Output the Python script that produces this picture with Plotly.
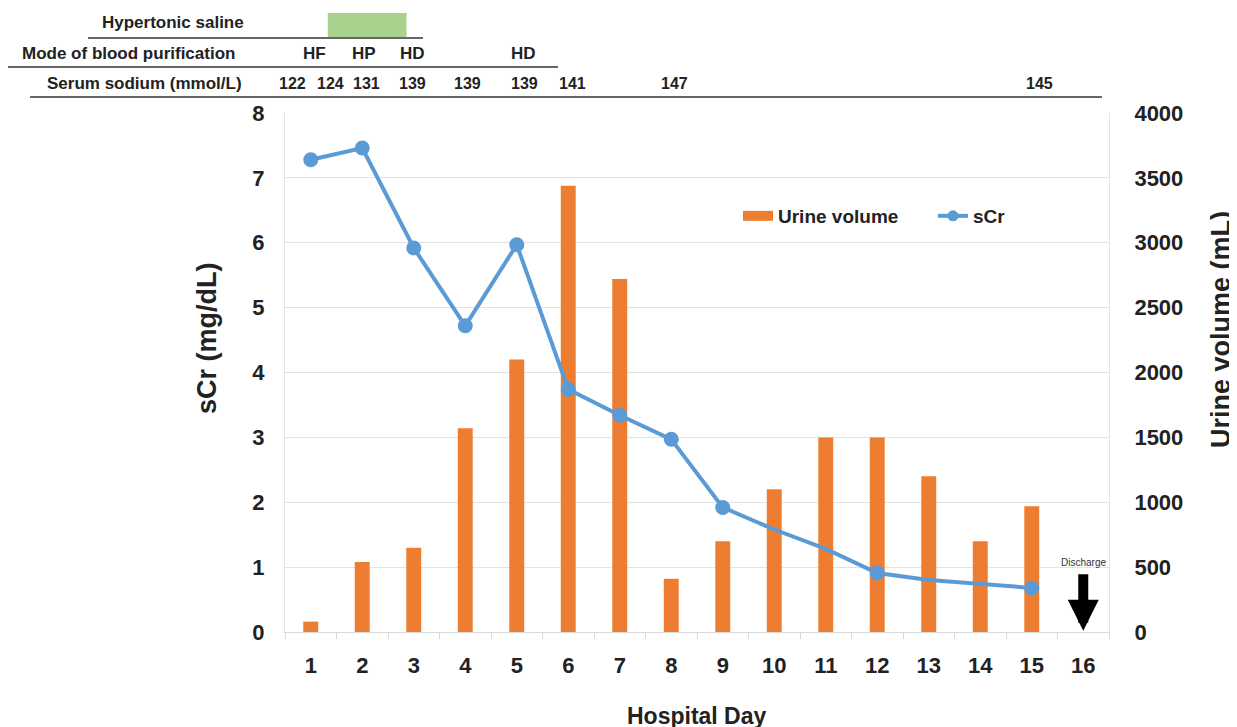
import plotly.graph_objects as go

# ---------------- data ----------------
days = list(range(1, 17))
urine_days = list(range(1, 16))
urine_volume = [80, 540, 650, 1570, 2100, 3440, 2720, 410, 700, 1100, 1500, 1500, 1200, 700, 970]
scr_days = list(range(1, 16))
scr = [7.28, 7.46, 5.92, 4.72, 5.97, 3.74, 3.34, 2.97, 1.92, 1.58, 1.28, 0.91, 0.80, 0.74, 0.68]
scr_marker_shown = [1, 1, 1, 1, 1, 1, 1, 1, 1, 0, 0, 1, 0, 0, 1]

sodium_day = [0.65, 1.39, 2.08, 2.97, 4.04, 5.15, 6.08, 8.07, 15.15]
sodium_val = ["122", "124", "131", "139", "139", "139", "141", "147", "145"]

purif_day = [1.08, 2.04, 2.97, 5.14]
purif_mode = ["HF", "HP", "HD", "HD"]

saline_start, saline_end = 1.33, 2.86
discharge_day = 16

left_ticks = list(range(0, 9))
right_ticks = list(range(0, 4001, 500))

ORANGE = "#ED7D31"
BLUE = "#5B9BD5"
FONT = "Liberation Sans, Arial, sans-serif"
W, H = 1237, 727
OFF = 8  # page body margin
# plot area in page pixels
PL, PR, PT, PB = 285, 1109, 113, 632
ML, MR, MT, MB = PL - OFF, W - (PR - OFF), PT - OFF, H - (PB - OFF)
PW, PH = PR - PL, PB - PT


def px(xp):
    return (xp - PL) / PW


def py(yp):
    return (PB - yp) / PH


fig = go.Figure()
fig.add_trace(go.Bar(
    x=urine_days, y=urine_volume, name="Urine volume", showlegend=False,
    marker=dict(color=ORANGE, line=dict(width=0)), width=0.29, yaxis="y",
))
# legend swatch for the bars (wide rectangle as in the original)
fig.add_trace(go.Scatter(
    x=[None], y=[None], name="Urine volume", mode="lines",
    line=dict(color=ORANGE, width=10), yaxis="y", hoverinfo="skip",
))
fig.add_trace(go.Scatter(
    x=scr_days, y=scr, name="sCr", mode="lines+markers",
    line=dict(color=BLUE, width=4),
    marker=dict(color=BLUE, opacity=1, line=dict(width=0),
                size=[15 if s else 0 for s in scr_marker_shown]),
    yaxis="y2",
))

annotations = []
shapes = []

hfont = dict(family=FONT, size=17, color="#222")
nfont = dict(family=FONT, size=16, color="#222")


def ann(text, x, y, font, xref="paper", **kw):
    d = dict(text=text, xref=xref, yref="paper", x=x, y=y, showarrow=False, font=font,
             xanchor="center", yanchor="middle")
    d.update(kw)
    annotations.append(d)


ann("<b>Hypertonic saline</b>", px(173), py(23), hfont)
ann("<b>Mode of blood purification</b>", px(128), py(53), hfont)
ann("<b>Serum sodium (mmol/L)</b>", px(144), py(84), hfont)
for d, m in zip(purif_day, purif_mode):
    ann("<b>%s</b>" % m, d, py(53), hfont, xref="x")
for d, v in zip(sodium_day, sodium_val):
    ann("<b>%s</b>" % v, d, py(84), nfont, xref="x")

shapes.append(dict(type="rect", xref="x", yref="paper", x0=saline_start, x1=saline_end,
                   y0=py(37), y1=py(13), fillcolor="#A9D18E", line=dict(width=0), layer="above"))
for x0, x1, y in [(88, 423, 38), (8, 558, 67), (30, 1102, 97)]:
    shapes.append(dict(type="line", xref="paper", yref="paper", x0=px(x0), x1=px(x1),
                       y0=py(y), y1=py(y), line=dict(color="#666", width=2)))

# axis titles
tfont = dict(family=FONT, size=27, color="#222")
ann("<b>sCr (mg/dL)</b>", px(207), py(338), tfont, textangle=-90)
ann("<b>Urine volume (mL)</b>", px(1221), py(330), tfont, textangle=-90)
ann("<b>Hospital Day</b>", 0.5, py(716), dict(family=FONT, size=23, color="#222"))

# discharge arrow
ann("Discharge", discharge_day, py(562), dict(family=FONT, size=10, color="#333"), xref="x")
annotations.append(dict(text="", xref="x", yref="y", x=discharge_day, y=10,
                        ax=0, ay=-58, axref="pixel", ayref="pixel",
                        showarrow=True, arrowhead=2, arrowsize=0.62, arrowwidth=10,
                        arrowcolor="black"))

tickfont = dict(family=FONT, size=22, color="#222")

fig.update_layout(
    width=W, height=H, autosize=False,
    margin=dict(l=ML, r=MR, t=MT, b=MB),
    plot_bgcolor="white", paper_bgcolor="white",
    showlegend=True,
    legend=dict(orientation="h", x=px(738), y=py(197), xanchor="left", yanchor="top",
                font=dict(family=FONT, size=19, color="#222", weight="bold"),
                bgcolor="rgba(0,0,0,0)", entrywidth=150, entrywidthmode="pixels",
                traceorder="normal"),
    xaxis=dict(range=[0.5, 16.5], tickvals=days, ticktext=["<b>%d</b>" % d for d in days],
               tickfont=tickfont, showgrid=False, zeroline=False,
               showline=True, linecolor="#d9d9d9", linewidth=1, ticks="", ticklen=0,
               ticklabelstandoff=14,
               minor=dict(tick0=0.5, dtick=1, ticks="outside", ticklen=6, tickcolor="#d9d9d9",
                          showgrid=False)),
    yaxis=dict(range=[0, 4000], tickvals=right_ticks, ticktext=["<b>%d</b>" % t for t in right_ticks],
               side="right", tickfont=tickfont, showgrid=True, gridcolor="#e3e3e3", gridwidth=1,
               zeroline=False, showline=True, linecolor="#e3e3e3", ticks="", ticklabelstandoff=20),
    yaxis2=dict(range=[0, 8], tickvals=left_ticks, ticktext=["<b>%d</b>" % t for t in left_ticks],
                side="left", overlaying="y", tickfont=tickfont, showgrid=False, zeroline=False,
                showline=True, linecolor="#e3e3e3", ticks="", ticklabelstandoff=15),
    annotations=annotations,
    shapes=shapes,
)

fig.write_html("out.html")
